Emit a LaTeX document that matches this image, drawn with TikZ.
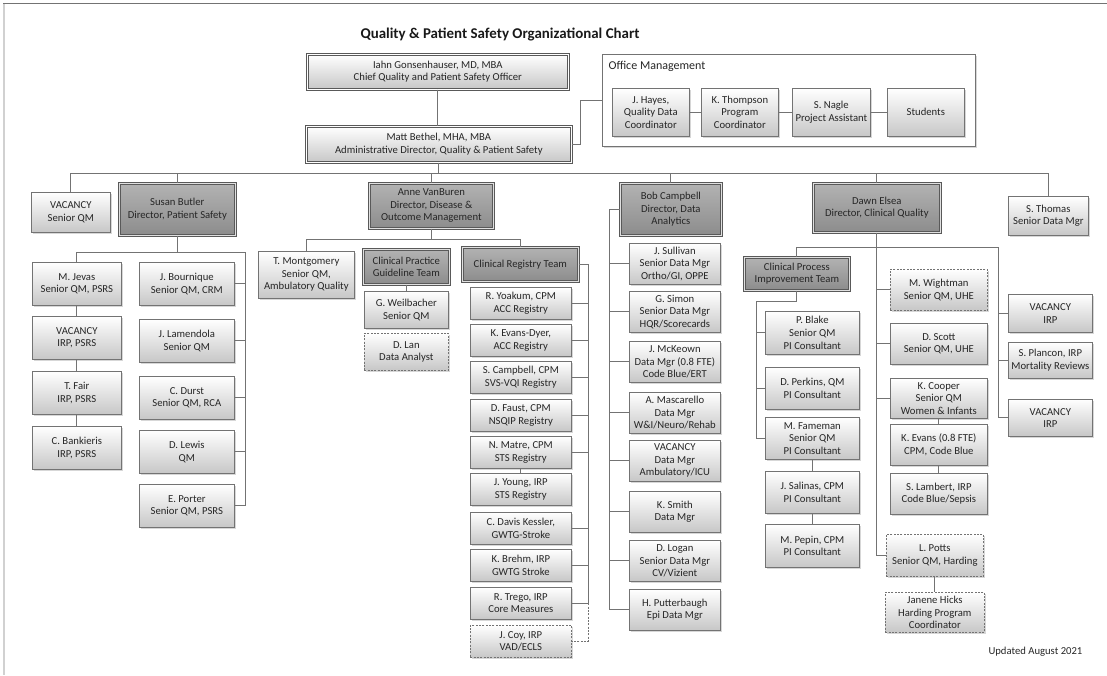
\documentclass[tikz,border=0pt]{standalone}
\usepackage{fontspec}
\setmainfont{Carlito}
\usetikzlibrary{positioning,shadows,calc}
\tikzset{
  conn/.style={line width=0.6pt,black!55},
  sz/.style 2 args={minimum width=#1*0.75pt,minimum height=#2*0.75pt},
  pbox/.style={draw=black!55,line width=0.5pt,top color=white,bottom color=black!22,
    anchor=north west,align=center,inner sep=1pt,text=black!85,
    font=\fontsize{8}{9.4}\selectfont,
    drop shadow={shadow xshift=0.9pt,shadow yshift=-0.9pt,fill=black!35,opacity=0.45}},
  dirbox/.style={pbox,top color=black!30,bottom color=black!45,draw=black!65,
    double=black!12,double distance=0.9pt},
  topbox/.style={pbox,draw=black!65,double=white,double distance=0.9pt},
  vbox/.style={pbox,dash pattern=on 1.5pt off 1pt},
  grpbox/.style={draw=black!55,line width=0.5pt,fill=white,anchor=north west,
    drop shadow={shadow xshift=0.9pt,shadow yshift=-0.9pt,fill=black!35,opacity=0.45}},
}
\begin{document}
\begin{tikzpicture}[x=0.75pt,y=-0.75pt]
  \useasboundingbox (0,0) rectangle (1107,675);
  \draw[black!18,line width=1.5pt] (4,3) -- (4,675);
  \draw[black!55,line width=0.8pt] (3,3.5) -- (1107,3.5);
  \node[font=\bfseries\fontsize{11.2}{13}\selectfont,text=black!90] (title) at (500,35)
    {Quality \& Patient Safety Organizational Chart};

  % leadership and office
  \node[topbox,sz={261}{35}] (iahn) at (307,54) {Iahn Gonsenhauser, MD, MBA\\Chief Quality and Patient Safety Officer};
  \node[topbox,sz={265}{36}] (matt) at (306,126) {Matt Bethel, MHA, MBA\\Administrative Director, Quality \& Patient Safety};
  \node[grpbox,sz={373}{92}] (office) at (602,54) {};
  \node[anchor=north west,inner sep=1pt,text=black!85,font=\fontsize{9}{10.5}\selectfont] (offlbl) at (607,60) {Office Management};
  \node[pbox,sz={77}{48}] (hayes) at (612,88) {J. Hayes,\\Quality Data\\Coordinator};
  \node[pbox,sz={77}{48}] (thomp) at (701,88) {K. Thompson\\Program\\Coordinator};
  \node[pbox,sz={78}{48}] (nagle) at (792,88) {S. Nagle\\Project Assistant};
  \node[pbox,sz={77}{48}] (stud) at (887,88) {Students};

  % directors
  \node[pbox,sz={79}{40}] (vacq) at (31,192) {VACANCY\\Senior QM};
  \node[dirbox,sz={116}{52}] (susan) at (119,183) {Susan Butler\\Director, Patient Safety};
  \node[dirbox,sz={124}{45}] (anne) at (369,183) {Anne VanBuren\\Director, Disease \&\\Outcome Management};
  \node[dirbox,sz={101}{52}] (bob) at (620,183) {Bob Campbell\\Director, Data\\Analytics};
  \node[dirbox,sz={127}{49}] (dawn) at (813,183) {Dawn Elsea\\Director, Clinical Quality};
  \node[pbox,sz={80}{39}] (thomas) at (1008,196) {S. Thomas\\Senior Data Mgr};

  % patient safety
  \node[pbox,sz={89}{43}] (jevas) at (32,262) {M. Jevas\\Senior QM, PSRS};
  \node[pbox,sz={89}{43}] (vacirp) at (32,316) {VACANCY\\IRP, PSRS};
  \node[pbox,sz={89}{43}] (fair) at (32,371) {T. Fair\\IRP, PSRS};
  \node[pbox,sz={89}{43}] (bank) at (32,426) {C. Bankieris\\IRP, PSRS};
  \node[pbox,sz={95}{43}] (bourn) at (139,262) {J. Bournique\\Senior QM, CRM};
  \node[pbox,sz={95}{43}] (lamen) at (139,319) {J. Lamendola\\Senior QM};
  \node[pbox,sz={95}{43}] (durst) at (139,376) {C. Durst\\Senior QM, RCA};
  \node[pbox,sz={95}{43}] (lewis) at (139,430) {D. Lewis\\QM};
  \node[pbox,sz={95}{43}] (porter) at (139,484) {E. Porter\\Senior QM, PSRS};

  % disease and outcome management
  \node[pbox,sz={96}{47}] (montg) at (258,251) {T. Montgomery\\Senior QM,\\Ambulatory Quality};
  \node[dirbox,sz={86}{35}] (cpg) at (363,249) {Clinical Practice\\Guideline Team};
  \node[pbox,sz={84}{37}] (weil) at (364,291) {G. Weilbacher\\Senior QM};
  \node[vbox,sz={84}{37}] (lan) at (364,333) {D. Lan\\Data Analyst};
  \node[dirbox,sz={116}{34}] (crt) at (462,247) {Clinical Registry Team};
  \node[pbox,sz={101}{32}] (yoak) at (470,287) {R. Yoakum, CPM\\ACC Registry};
  \node[pbox,sz={101}{32}] (evd) at (470,324) {K. Evans-Dyer,\\ACC Registry};
  \node[pbox,sz={101}{32}] (scam) at (470,361) {S. Campbell, CPM\\SVS-VQI Registry};
  \node[pbox,sz={101}{32}] (faust) at (470,399) {D. Faust, CPM\\NSQIP Registry};
  \node[pbox,sz={101}{32}] (matre) at (470,436) {N. Matre, CPM\\STS Registry};
  \node[pbox,sz={101}{32}] (young) at (470,473) {J. Young, IRP\\STS Registry};
  \node[pbox,sz={101}{32}] (davis) at (470,512) {C. Davis Kessler,\\GWTG-Stroke};
  \node[pbox,sz={101}{32}] (brehm) at (470,549) {K. Brehm, IRP\\GWTG Stroke};
  \node[pbox,sz={101}{32}] (trego) at (470,587) {R. Trego, IRP\\Core Measures};
  \node[vbox,sz={101}{32}] (coy) at (470,625) {J. Coy, IRP\\VAD/ECLS};

  % data analytics
  \node[pbox,sz={91}{41}] (sull) at (629,243) {J. Sullivan\\Senior Data Mgr\\Ortho/GI, OPPE};
  \node[pbox,sz={91}{41}] (simon) at (629,291) {G. Simon\\Senior Data Mgr\\HQR/Scorecards};
  \node[pbox,sz={91}{41}] (mckeo) at (629,341) {J. McKeown\\Data Mgr (0.8 FTE)\\Code Blue/ERT};
  \node[pbox,sz={91}{41}] (masc) at (629,392) {A. Mascarello\\Data Mgr\\W\&I/Neuro/Rehab};
  \node[pbox,sz={91}{41}] (vacdm) at (629,440) {VACANCY\\Data Mgr\\Ambulatory/ICU};
  \node[pbox,sz={91}{41}] (smith) at (629,491) {K. Smith\\Data Mgr};
  \node[pbox,sz={91}{41}] (logan) at (629,540) {D. Logan\\Senior Data Mgr\\CV/Vizient};
  \node[pbox,sz={91}{41}] (putt) at (629,589) {H. Putterbaugh\\Epi Data Mgr};

  % clinical quality
  \node[dirbox,sz={105}{33}] (cpit) at (744,257) {Clinical Process\\Improvement Team};
  \node[pbox,sz={94}{43}] (blake) at (765,311) {P. Blake\\Senior QM\\PI Consultant};
  \node[pbox,sz={94}{42}] (perk) at (765,367) {D. Perkins, QM\\PI Consultant};
  \node[pbox,sz={94}{42}] (fame) at (765,417) {M. Fameman\\Senior QM\\PI Consultant};
  \node[pbox,sz={94}{42}] (sal) at (765,471) {J. Salinas, CPM\\PI Consultant};
  \node[pbox,sz={94}{43}] (pepin) at (765,524) {M. Pepin, CPM\\PI Consultant};
  \node[vbox,sz={97}{41}] (wight) at (890,269) {M. Wightman\\Senior QM, UHE};
  \node[pbox,sz={97}{41}] (scott) at (890,323) {D. Scott\\Senior QM, UHE};
  \node[pbox,sz={97}{40}] (coop) at (890,378) {K. Cooper\\Senior QM\\Women \& Infants};
  \node[pbox,sz={97}{41}] (kev) at (890,424) {K. Evans (0.8 FTE)\\CPM, Code Blue};
  \node[pbox,sz={97}{41}] (lamb) at (890,473) {S. Lambert, IRP\\Code Blue/Sepsis};
  \node[vbox,sz={97}{42}] (potts) at (886,534) {L. Potts\\Senior QM, Harding};
  \node[vbox,sz={99}{40}] (hicks) at (885,592) {Janene Hicks\\Harding Program\\Coordinator};
  \node[pbox,sz={84}{38}] (vac1) at (1008,294) {VACANCY\\IRP};
  \node[pbox,sz={84}{36}] (planc) at (1008,342) {S. Plancon, IRP\\Mortality Reviews};
  \node[pbox,sz={84}{37}] (vac2) at (1008,399) {VACANCY\\IRP};

  \node[anchor=east,inner sep=1pt,text=black!85,font=\fontsize{8}{9.5}\selectfont] (upd) at (1084,652) {Updated August 2021};

  % connectors
  \coordinate (bus) at (0,173);
  \draw[conn] (iahn.south) -- (iahn.south |- matt.north);
  \draw[conn] (matt.east) -- ++(9,0) |- (office.west);
  \draw[conn] (hayes) -- (thomp) (thomp) -- (nagle) (nagle) -- (stud);
  \draw[conn] (matt.south) -- (matt.south |- bus);
  \draw[conn] (vacq.north) |- (thomas.north |- bus) -- (thomas.north);
  \draw[conn] (susan.north) -- (susan.north |- bus) (anne.north) -- (anne.north |- bus);
  \draw[conn] (bob.north) -- (bob.north |- bus) (dawn.north) -- (dawn.north |- bus);

  \coordinate (sr) at (245,252);
  \draw[conn] (susan.south) -- (susan.south |- sr);
  \draw[conn] (jevas.north) |- (sr) |- (porter.east);
  \draw[conn] (bourn.east) -- (bourn.east -| sr) (lamen.east) -- (lamen.east -| sr);
  \draw[conn] (durst.east) -- (durst.east -| sr) (lewis.east) -- (lewis.east -| sr);
  \draw[conn] (jevas) -- (vacirp) (vacirp) -- (fair) (fair) -- (bank);

  \coordinate (abus) at (0,239);
  \coordinate (cr) at (588,0);
  \draw[conn] (anne.south) -- (anne.south |- abus);
  \draw[conn] (montg.north) |- (abus -| crt.north) -- (crt.north);
  \draw[conn] (cpg) -- (weil);
  \draw[conn] (crt.east) -| (cr |- trego.east) -- (trego.east);
  \draw[conn,dash pattern=on 1.5pt off 1pt] (cr |- trego.east) |- (coy.east);
  \draw[conn] (yoak.east) -- (yoak.east -| cr) (evd.east) -- (evd.east -| cr);
  \draw[conn] (scam.east) -- (scam.east -| cr) (faust.east) -- (faust.east -| cr);
  \draw[conn] (matre.east) -- (matre.east -| cr) (davis.east) -- (davis.east -| cr);
  \draw[conn] (brehm.east) -- (brehm.east -| cr) (matre) -- (young);

  \coordinate (bl) at (609,0);
  \draw[conn] (bob.west) -| (bl |- putt.west) -- (putt.west);
  \draw[conn] (sull.west) -- (sull.west -| bl) (simon.west) -- (simon.west -| bl);
  \draw[conn] (mckeo.west) -- (mckeo.west -| bl) (masc.west) -- (masc.west -| bl);
  \draw[conn] (vacdm.west) -- (vacdm.west -| bl) (smith.west) -- (smith.west -| bl);
  \draw[conn] (logan.west) -- (logan.west -| bl);

  \coordinate (dbus) at (0,247);
  \coordinate (dr) at (998,0);
  \coordinate (cl) at (756,301);
  \draw[conn] (dawn.south) |- (potts.west);
  \draw[conn] (cpit.north) |- (dr |- dbus) |- (vac2.west);
  \draw[conn] (vac1.west) -- (vac1.west -| dr) (planc.west) -- (planc.west -| dr);
  \draw[conn] (wight.west) -- (wight.west -| dawn.south) (scott.west) -- (scott.west -| dawn.south);
  \draw[conn] (coop.west) -- (coop.west -| dawn.south);
  \draw[conn] (coop) -- (kev) (kev) -- (lamb) (potts) -- (hicks);
  \draw[conn] (cpit.south) |- (cl) |- (fame.west);
  \draw[conn] (blake.west) -- (blake.west -| cl) (perk.west) -- (perk.west -| cl);
  \draw[conn] (fame) -- (sal) (sal) -- (pepin);
\end{tikzpicture}
\end{document}
